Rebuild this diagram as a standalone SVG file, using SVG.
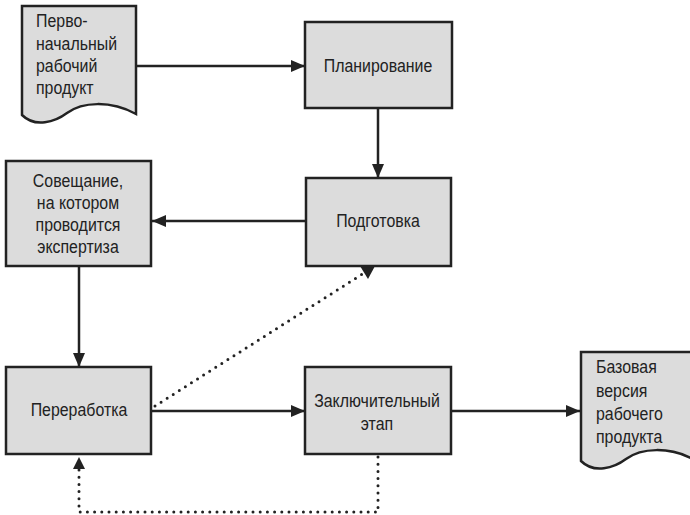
<svg xmlns="http://www.w3.org/2000/svg" width="690" height="515" viewBox="0 0 690 515">
<style>
.box{fill:#dcdcdc;stroke:#222;stroke-width:2.5}
.t{font-family:"Liberation Sans",Arial,sans-serif;font-size:18.5px;fill:#222}
.c{text-anchor:middle}
.ln{fill:none;stroke:#222;stroke-width:2.5}
.dot{fill:none;stroke:#222;stroke-width:3;stroke-linecap:round;stroke-dasharray:0 7.2}
</style>
<defs>
<marker id="ah" markerWidth="14" markerHeight="12" refX="14" refY="6" orient="auto" markerUnits="userSpaceOnUse">
<path d="M0,0 L14,6 L0,12 Z" fill="#222"/>
</marker>
<path id="docshape" d="M0,0 H114 V108 C88,94 60,96 45,107 C33,116 13,122 0,109 Z"/>
</defs>
<rect width="690" height="515" fill="#fff"/>
<g id="connectors">
<path class="ln" d="M136,66 H305" marker-end="url(#ah)"/>
<path class="ln" d="M378,108 V178" marker-end="url(#ah)"/>
<path class="ln" d="M306,221 H152" marker-end="url(#ah)"/>
<path class="ln" d="M79,266 V367" marker-end="url(#ah)"/>
<path class="ln" d="M152,411 H305" marker-end="url(#ah)"/>
<path class="ln" d="M451,411 H580" marker-end="url(#ah)"/>
<path class="dot" d="M155,406 L364,273"/>
<path d="M375,266 L360,266 L368,279 Z" fill="#222"/>
<path class="dot" d="M378,457 V512 H79 V470"/>
<path d="M79,457 L73,469 L85,469 Z" fill="#222"/>
</g>
<g id="doc1">
<use href="#docshape" x="22" y="6" class="box"/>
<text class="t" transform="translate(36,27) scale(0.86,1)">Перво-</text>
<text class="t" transform="translate(36,50) scale(0.86,1)">начальный</text>
<text class="t" transform="translate(36,72) scale(0.86,1)">рабочий</text>
<text class="t" transform="translate(36,94) scale(0.86,1)">продукт</text>
</g>
<g id="planning">
<rect class="box" x="305" y="22" width="147" height="86"/>
<text class="t c" transform="translate(378,72) scale(0.86,1)">Планирование</text>
</g>
<g id="prep">
<rect class="box" x="306" y="178" width="145" height="88"/>
<text class="t c" transform="translate(378,227) scale(0.86,1)">Подготовка</text>
</g>
<g id="meeting">
<rect class="box" x="6" y="161" width="145" height="105"/>
<text class="t c" transform="translate(78,187) scale(0.86,1)">Совещание,</text>
<text class="t c" transform="translate(78,209) scale(0.86,1)">на котором</text>
<text class="t c" transform="translate(78,231) scale(0.86,1)">проводится</text>
<text class="t c" transform="translate(78,253) scale(0.86,1)">экспертиза</text>
</g>
<g id="rework">
<rect class="box" x="6" y="367" width="145" height="87"/>
<text class="t c" transform="translate(79,416) scale(0.86,1)">Переработка</text>
</g>
<g id="final">
<rect class="box" x="305" y="367" width="146" height="87"/>
<text class="t c" transform="translate(377,407) scale(0.86,1)">Заключительный</text>
<text class="t c" transform="translate(377,430) scale(0.86,1)">этап</text>
</g>
<g id="doc2">
<use href="#docshape" x="581" y="352" class="box"/>
<text class="t" transform="translate(596,373) scale(0.86,1)">Базовая</text>
<text class="t" transform="translate(596,397) scale(0.86,1)">версия</text>
<text class="t" transform="translate(596,420) scale(0.86,1)">рабочего</text>
<text class="t" transform="translate(596,443) scale(0.86,1)">продукта</text>
</g>
</svg>
